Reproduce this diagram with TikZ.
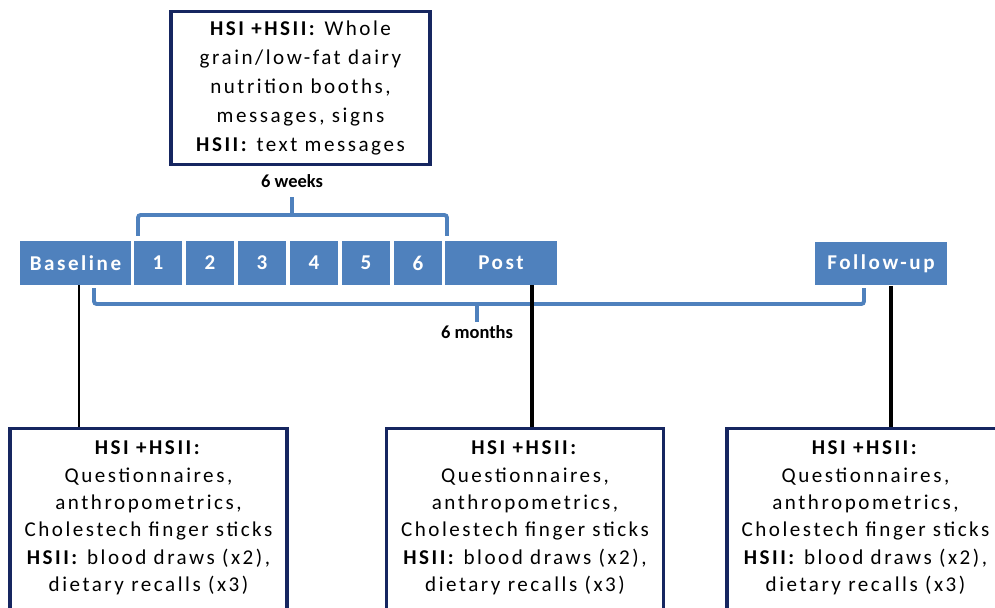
\documentclass[tikz,border=0pt]{standalone}
\usepackage{fontspec}
\setmainfont{Carlito}
\newfontfamily\spaced{Carlito}[LetterSpace=12]
\definecolor{tlblue}{RGB}{79,129,189}
\definecolor{navy}{RGB}{22,38,96}

\tikzset{
	period/.style={shape=rectangle, fill=tlblue, text=white, font=\spaced\bfseries\fontsize{12}{14}\selectfont, minimum height=0.88cm, inner sep=0pt},
	week/.style={period, minimum width=0.97cm},
	infobox/.style={shape=rectangle, draw=navy, line width=1.8pt, align=center, font=\spaced\fontsize{12}{15.6}\selectfont},
	span/.style={font=\bfseries\fontsize{10.5}{12}\selectfont},
	brace/.style={draw=tlblue, line width=2.2pt, rounded corners=1.5pt},
	stem/.style={draw=black, line width=2.8pt},
}

\begin{document}
\begin{tikzpicture}[x=0.02cm, y=-0.02cm]
	\useasboundingbox (0,0) rectangle (995,608);
	\clip (0,0) rectangle (995,608);

	% intervention
	\node[infobox, minimum width=5.18cm, minimum height=3.06cm, font=\spaced\fontsize{12}{16.5}\selectfont] (inter) at (300.5,88)
		{\textbf{HSI +HSII:} Whole\\ grain/low-fat dairy\\ nutrition booths,\\ messages, signs\\ \textbf{HSII:} text messages};

	% timeline
	\node[period, minimum width=2.22cm] (base) at (75.5,263) {Baseline};
	\foreach \i in {1,...,6}
		\node[week] (w\i) at ({106+52*\i},263) {\i};
	\node[period, minimum width=2.24cm] (post) at (501,263) {Post};
	\node[period, minimum width=2.64cm] (follow) at (881,263.5) {Follow-up};

	% 6 weeks
	\node[span, anchor=south, inner sep=5pt] (wk) at (292,197) {6 weeks};
	\coordinate (wL) at (138,236);
	\coordinate (wR) at (447,236);
	\coordinate (wtop) at (292,215);
	\draw[brace] (wL) |- (wtop) -| (wR);
	\draw[brace] (wtop) -- (wk.south);

	% 6 months
	\node[span, anchor=north, inner sep=2pt] (mo) at (477,322) {6 months};
	\coordinate (mL) at (94,288);
	\coordinate (mR) at (864,288);
	\coordinate (mbot) at (477,304);
	\draw[brace] (mL) |- (mbot) -| (mR);
	\draw[brace] (mbot) -- (mo.north);

	% measurements
	\node[infobox, anchor=north, minimum width=5.54cm, inner ysep=7pt] (lbox) at (148.5,427)
		{\textbf{HSI +HSII:}\\ Questionnaires,\\ anthropometrics,\\ Cholestech finger sticks\\ \textbf{HSII:} blood draws (x2),\\ dietary recalls (x3)\rule[-20pt]{0pt}{0pt}};
	\node[infobox, anchor=north, minimum width=5.54cm, inner ysep=7pt] (mbox) at (525,427)
		{\textbf{HSI +HSII:}\\ Questionnaires,\\ anthropometrics,\\ Cholestech finger sticks\\ \textbf{HSII:} blood draws (x2),\\ dietary recalls (x3)\rule[-20pt]{0pt}{0pt}};
	\node[infobox, anchor=north, minimum width=5.54cm, inner ysep=7pt] (rbox) at (865.5,427)
		{\textbf{HSI +HSII:}\\ Questionnaires,\\ anthropometrics,\\ Cholestech finger sticks\\ \textbf{HSII:} blood draws (x2),\\ dietary recalls (x3)\rule[-20pt]{0pt}{0pt}};

	\draw[stem, line width=1.5pt] ([xshift=0.07cm]base.south) -- ([xshift=0.07cm]base.south |- lbox.north);
	\draw[stem] ([xshift=0.62cm]post.south) -- ([xshift=0.62cm]post.south |- mbox.north);
	\draw[stem] ([xshift=0.2cm]follow.south) -- ([xshift=0.2cm]follow.south |- rbox.north);
\end{tikzpicture}
\end{document}
